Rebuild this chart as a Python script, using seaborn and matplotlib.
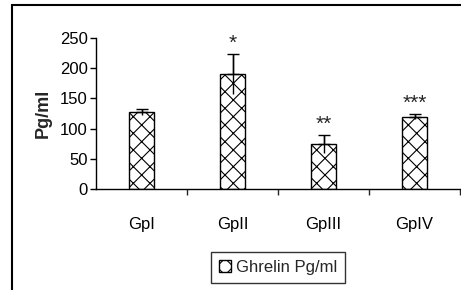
import matplotlib
matplotlib.use("Agg")
import matplotlib.pyplot as plt
import pandas as pd
import seaborn as sns
from matplotlib.patches import Rectangle

groups = ["GpI", "GpII", "GpIII", "GpIV"]
ghrelin = [128, 191, 75, 120]
sd = [5, 33, 15, 4]
marks = ["", "*", "**", "***"]


def main():
    sns.set_theme(style="white")
    plt.rcParams["font.family"] = ["Liberation Sans", "DejaVu Sans"]
    plt.rcParams["hatch.linewidth"] = 0.8

    data = pd.DataFrame({"group": groups, "value": ghrelin})

    fig = plt.figure(figsize=(4.61, 2.90), dpi=100)
    ax = fig.add_axes([96 / 461, 1 - 189 / 290, 364 / 461, 151 / 290])

    sns.barplot(data=data, x="group", y="value", ax=ax, width=0.27,
                color="white", edgecolor="black", linewidth=1.0,
                hatch="xx", label="Ghrelin Pg/ml", errorbar=None)

    x = range(len(groups))
    ax.errorbar(x, ghrelin, yerr=sd, fmt="none", ecolor="black",
                elinewidth=1.0, capsize=0)
    ax.errorbar(x, ghrelin, yerr=[[0] * len(sd), sd], fmt="none",
                ecolor="black", elinewidth=1.0, capsize=4, capthick=1.0)

    for i, m in enumerate(marks):
        if m:
            ax.text(i, ghrelin[i] + sd[i] + 2, m, ha="center", va="bottom",
                    fontsize=15)

    ax.set_xlim(-0.5, len(groups) - 0.5)
    ax.set_ylim(0, 250)
    ax.set_yticks([0, 50, 100, 150, 200, 250])
    ax.set_xlabel("")
    ax.set_ylabel("Pg/ml", fontsize=13, fontweight="bold", labelpad=6)
    ax.tick_params(axis="both", labelsize=12, colors="black")
    ax.tick_params(axis="y", left=True, length=4, width=1.0, pad=2)
    ax.tick_params(axis="x", bottom=False, pad=14)
    ax.set_xticks([0.5, 1.5, 2.5, 3.5], minor=True)
    ax.tick_params(axis="x", which="minor", bottom=True, length=4, width=1.0)

    for side in ["top", "right"]:
        ax.spines[side].set_visible(False)
    for side in ["left", "bottom"]:
        ax.spines[side].set_color("black")
        ax.spines[side].set_linewidth(1.0)

    leg = ax.legend(loc="center", bbox_to_anchor=(0.5, -0.52), fontsize=12,
                    frameon=True, fancybox=False, handlelength=0.7,
                    handleheight=0.7, handletextpad=0.3, borderpad=0.5)
    leg.get_frame().set_edgecolor("black")
    leg.get_frame().set_linewidth(1.0)

    fig.patches.append(Rectangle((12 / 461, -0.1), 1.2, 1 - 5 / 290 + 0.1,
                                 transform=fig.transFigure, fill=False,
                                 edgecolor="black", linewidth=1.5))

    fig.savefig("out.png", dpi=100)
    plt.close(fig)


if __name__ == "__main__":
    main()
